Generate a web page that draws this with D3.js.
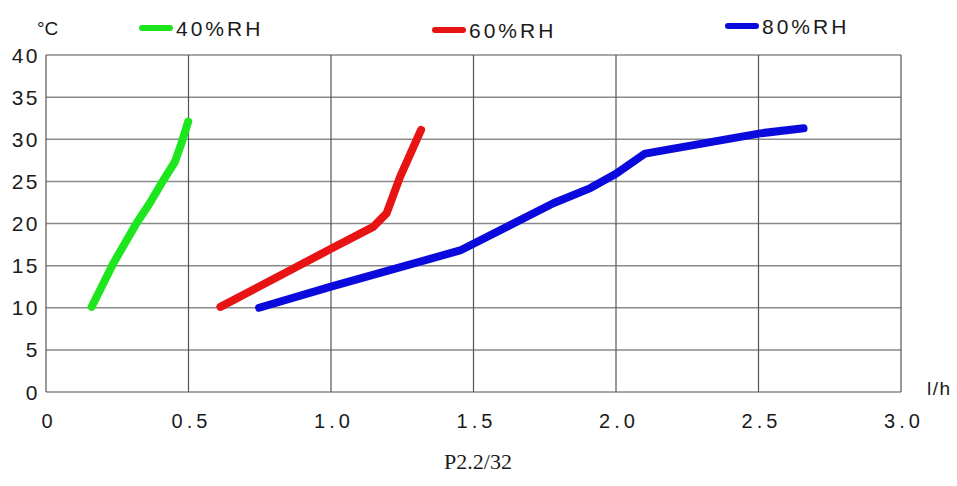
<!DOCTYPE html>
<html>
<head>
<meta charset="utf-8">
<script src="https://cdn.jsdelivr.net/npm/d3@7"></script>
<style>
  body { margin: 0; background: #fff; }
  text { font-family: "Liberation Sans", Arial, sans-serif; fill: #1a1a1a; }
</style>
</head>
<body>
<div id="chart"></div>
<script>
// data
const xTicks = [0, 0.5, 1.0, 1.5, 2.0, 2.5, 3.0];
const yTicks = [0, 5, 10, 15, 20, 25, 30, 35, 40];
const seriesNames = ["40%RH", "60%RH", "80%RH"];
const seriesColors = ["#1ee61e", "#e81414", "#0a0adc"];
const rh40 = [[0.16, 10.1], [0.235, 15.2], [0.317, 20], [0.364, 22.4], [0.411, 25.1], [0.452, 27.3], [0.475, 29.5], [0.499, 32.1]];
const rh60 = [[0.612, 10.1], [1.0, 17.0], [1.148, 19.6], [1.195, 21.2], [1.242, 25.5], [1.316, 31.1]];
const rh80 = [[0.748, 10.0], [1.0, 12.5], [1.453, 16.8], [1.78, 22.4], [1.91, 24.2], [2.0, 25.9], [2.102, 28.3], [2.506, 30.7], [2.658, 31.3]];
const allSeries = [rh40, rh60, rh80];

const width = 957, height = 486;
const margin = {top: 55, right: 56, bottom: 94, left: 46};
const w = width - margin.left - margin.right,
      h = height - margin.top - margin.bottom;

const svg = d3.select("#chart").append("svg")
  .attr("width", width).attr("height", height);
const g = svg.append("g")
  .attr("transform", "translate(" + margin.left + "," + margin.top + ")");

const x = d3.scaleLinear().domain([0, 3]).range([0, w]);
const y = d3.scaleLinear().domain([0, 40]).range([h, 0]);

// horizontal grid
g.append("g").selectAll("line").data(yTicks).enter().append("line")
  .attr("x1", 0).attr("x2", w)
  .attr("y1", d => y(d)).attr("y2", d => y(d))
  .attr("stroke", "#8a8a8a").attr("stroke-width", 1.5);
// vertical grid
g.append("g").selectAll("line").data(xTicks).enter().append("line")
  .attr("x1", d => x(d)).attr("x2", d => x(d))
  .attr("y1", 0).attr("y2", h)
  .attr("stroke", "#555").attr("stroke-width", 1.2);

// tick labels
g.append("g").selectAll("text").data(yTicks).enter().append("text")
  .attr("x", -6).attr("y", d => y(d)).attr("dy", "0.36em")
  .attr("text-anchor", "end")
  .style("font-size", "21px").style("letter-spacing", "2.5px")
  .text(d => d);
g.append("g").selectAll("text").data(xTicks).enter().append("text")
  .attr("x", d => x(d) + 3).attr("y", h + 36)
  .attr("text-anchor", "middle")
  .style("font-size", "20px").style("letter-spacing", "4px")
  .text(d => d === 0 ? "0" : d3.format(".1f")(d));

// units
svg.append("text").attr("x", 37).attr("y", 35)
  .style("font-size", "19px").text("°C");
svg.append("text").attr("x", 927).attr("y", 395)
  .style("font-size", "19px").style("letter-spacing", "1.5px").text("l/h");

// curves
const line = d3.line()
  .x(d => x(d[0])).y(d => y(d[1]));
g.selectAll("path.curve").data(allSeries).enter().append("path")
  .attr("class", "curve")
  .attr("d", line)
  .attr("fill", "none")
  .attr("stroke", (d, i) => seriesColors[i])
  .attr("stroke-width", 8)
  .attr("stroke-linecap", "round")
  .attr("stroke-linejoin", "round");

// legend
const legendX = [142, 435, 728];
const legendY = [28, 30, 26];
const leg = svg.append("g").selectAll("g").data(seriesNames).enter().append("g")
  .attr("transform", (d, i) => "translate(" + legendX[i] + "," + legendY[i] + ")");
leg.append("line")
  .attr("x1", 0).attr("x2", 28).attr("y1", 0).attr("y2", 0)
  .attr("stroke", (d, i) => seriesColors[i])
  .attr("stroke-width", 6).attr("stroke-linecap", "round");
leg.append("text")
  .attr("x", 34).attr("dy", "0.36em")
  .style("font-size", "21px").style("letter-spacing", "3px")
  .text(d => d);

// page note
svg.append("text").attr("x", 478).attr("y", 469)
  .attr("text-anchor", "middle")
  .style("font-family", "'Liberation Serif', 'Times New Roman', serif")
  .style("font-size", "22px")
  .text("P2.2/32");
</script>
</body>
</html>
